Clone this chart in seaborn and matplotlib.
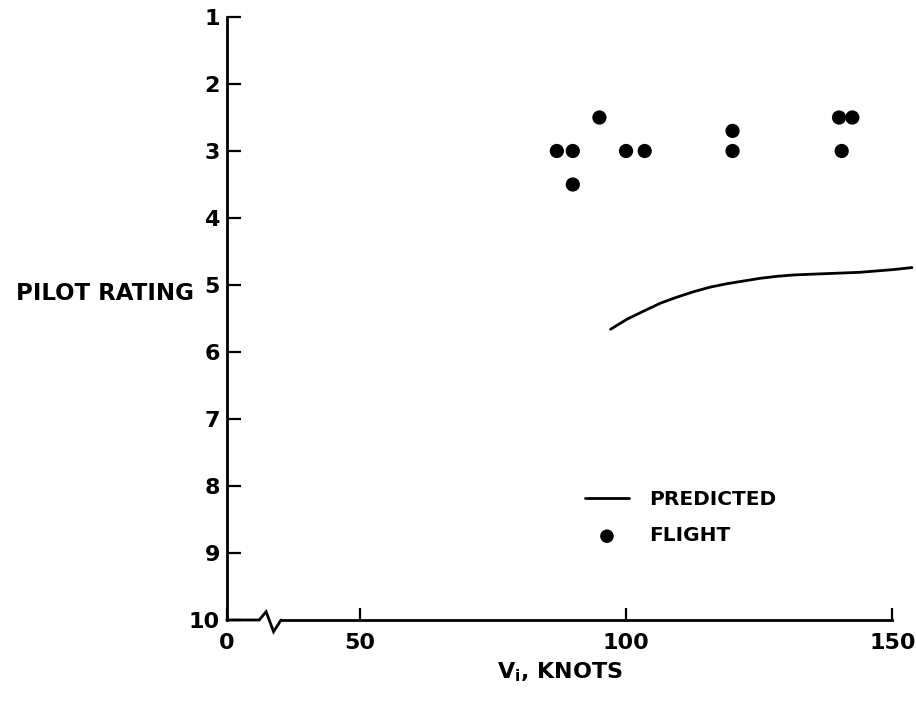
import matplotlib
matplotlib.use("Agg")
import matplotlib.pyplot as plt
import seaborn as sns
import pandas as pd

# Flight test ratings
flight_speed = [87, 90, 90, 95, 100, 103.5, 120, 120, 140, 142.5, 140.5]
flight_rating = [3.0, 3.0, 3.5, 2.5, 3.0, 3.0, 2.7, 3.0, 2.5, 2.5, 3.0]

# Predicted rating curve
pred_speed = [97.1, 100.2, 103.3, 106.5, 109.6, 112.7, 115.9, 119.0, 122.1,
              125.2, 128.4, 131.5, 134.6, 137.7, 140.9, 144.0, 147.1, 150.2, 153.7]
pred_rating = [5.66, 5.51, 5.39, 5.27, 5.18, 5.10, 5.03, 4.98, 4.94,
               4.90, 4.87, 4.85, 4.84, 4.83, 4.82, 4.81, 4.79, 4.77, 4.74]

# Axis ticks (the origin sits at the broken end of the speed axis)
x_ticks = [25, 50, 100, 150]
x_tick_labels = ["0", "50", "100", "150"]
y_ticks = list(range(1, 11))

sns.set_style("ticks")
plt.rcParams["font.family"] = ["DejaVu Sans"]
plt.rcParams["font.weight"] = "bold"
plt.rcParams["text.color"] = "black"
plt.rcParams["axes.labelcolor"] = "black"
plt.rcParams["mathtext.fontset"] = "custom"
plt.rcParams["mathtext.rm"] = "DejaVu Sans:bold"
plt.rcParams["mathtext.it"] = "DejaVu Sans:bold"

fig = plt.figure(figsize=(9.16, 7.02), dpi=100)
ax = fig.add_axes([0.2475, 0.1168, 0.7266, 0.859])

pred = pd.DataFrame({"speed": pred_speed, "rating": pred_rating})
flight = pd.DataFrame({"speed": flight_speed, "rating": flight_rating})

sns.lineplot(data=pred, x="speed", y="rating", color="black", lw=2.0,
             sort=True, ax=ax, label="PREDICTED")
sns.scatterplot(data=flight, x="speed", y="rating", color="black", s=105,
                edgecolor="none", ax=ax, label="FLIGHT")
for ln in ax.lines:
    ln.set_clip_on(False)
    ln.set_solid_capstyle("round")
    ln.set_solid_joinstyle("round")

ax.set_xlim(25, 150)
ax.set_ylim(10, 1)
ax.set_xticks(x_ticks)
ax.set_xticklabels(x_tick_labels)
ax.set_yticks(y_ticks)
ax.tick_params(axis="both", direction="in", width=1.6, labelsize=16,
               colors="black", labelcolor="black")
ax.tick_params(axis="x", length=9, pad=9)
ax.tick_params(axis="y", length=10, pad=5)
for lab in ax.get_xticklabels() + ax.get_yticklabels():
    lab.set_fontweight("bold")

ax.spines["top"].set_visible(False)
ax.spines["right"].set_visible(False)
ax.spines["left"].set_linewidth(2.0)
ax.spines["bottom"].set_linewidth(2.0)
ax.spines["left"].set_color("black")
ax.spines["bottom"].set_color("black")
ax.spines["bottom"].set_bounds(35.2, 150)

# Break symbol on the speed axis
ax.plot([25, 31.1, 32.4, 33.8, 35.2], [10, 10, 9.876, 10.174, 10],
        color="black", lw=2.0, clip_on=False, solid_joinstyle="miter")

ax.set_xlabel(r"V$_{\mathrm{i}}$, KNOTS", fontsize=16, fontweight="bold",
              labelpad=6, color="black")
ax.set_ylabel("PILOT RATING", fontsize=16.5, fontweight="bold", rotation=0,
              ha="right", va="center", color="black")
ax.yaxis.set_label_coords(-0.05, 0.542)

leg = ax.legend(loc="upper left", bbox_to_anchor=(0.538, 0.215), frameon=False,
                handlelength=2.2, handletextpad=1.0,
                labelspacing=0.85, borderpad=0, borderaxespad=0,
                prop={"weight": "bold", "size": 14.5})
for txt in leg.get_texts():
    txt.set_color("black")
for h in leg.legend_handles:
    if hasattr(h, "set_sizes"):
        h.set_sizes([95])

fig.savefig("out.png", dpi=100, facecolor="white")
